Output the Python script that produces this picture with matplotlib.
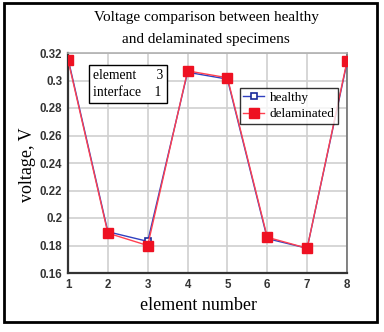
import matplotlib.pyplot as plt
from matplotlib.patches import Rectangle

elements = [1, 2, 3, 4, 5, 6, 7, 8]
healthy = [0.316, 0.190, 0.183, 0.306, 0.301, 0.185, 0.178, 0.313]
delaminated = [0.315, 0.189, 0.180, 0.307, 0.302, 0.186, 0.178, 0.314]
yticks = [0.16, 0.18, 0.2, 0.22, 0.24, 0.26, 0.28, 0.3, 0.32]
ytick_labels = ['0.16', '0.18', '0.2', '0.22', '0.24', '0.26', '0.28', '0.3', '0.32']

serif = 'Liberation Serif'
sans = 'Liberation Sans'

fig = plt.figure(figsize=(3.84, 3.32), dpi=100)
W, H = 384, 332
ax = fig.add_axes([68 / W, 1 - 273 / H, (347 - 68) / W, (273 - 53) / H])

ax.plot(elements, healthy, color='#3040c0', lw=1.0, marker='s', ms=5,
        mfc='white', mec='#1a2a9a', mew=1.2, label='healthy', zorder=3)
ax.plot(elements, delaminated, color='#ff4050', lw=1.0, marker='s', ms=6.5,
        mfc='#ee1122', mec='#ee1122', label='delaminated', zorder=4)

ax.set_xlim(1, 8)
ax.set_ylim(0.16, 0.32)
ax.set_xticks(elements)
ax.set_yticks(yticks)
ax.set_yticklabels(ytick_labels)
ax.grid(True, color='#d0d0d0', lw=1.2)
ax.set_axisbelow(True)
ax.tick_params(length=0, pad=4, labelsize=8.3)
for lab in ax.get_xticklabels() + ax.get_yticklabels():
    lab.set_fontfamily(sans)
    lab.set_fontweight('bold')
    lab.set_color('#333333')

for s in ['left', 'bottom']:
    ax.spines[s].set_color('#333333')
    ax.spines[s].set_linewidth(1.6)
for s in ['top', 'right']:
    ax.spines[s].set_color('#b0b0b0')
    ax.spines[s].set_linewidth(1.2)
ax.spines['right'].set_color('#707070')

ax.set_xlabel('element number', family=serif, fontsize=13)
ax.xaxis.set_label_coords((199 - 68) / (347 - 68), -(297 - 273) / 220)
ax.set_ylabel('voltage, V', family=serif, fontsize=13)
ax.yaxis.set_label_coords(-(68 - 36) / (347 - 68), 1 - (165 - 53) / 220)

fig.text(206 / W, 1 - 18 / H, 'Voltage comparison between healthy',
         family=serif, fontsize=11, ha='center', va='center')
fig.text(206 / W, 1 - 40 / H, 'and delaminated specimens',
         family=serif, fontsize=11, ha='center', va='center')

leg = ax.legend(loc='upper left', bbox_to_anchor=((240 - 68) / (347 - 68), 1 - (88 - 53) / 220),
                prop={'family': serif, 'size': 9.5}, frameon=True, fancybox=False,
                edgecolor='black', borderpad=0.25, handlelength=1.6, handletextpad=0.4,
                labelspacing=0.35, borderaxespad=0)
leg.get_frame().set_linewidth(1.0)

ax.text((93 - 68) / (347 - 68), 1 - (69 - 53) / 220, 'element      3\ninterface    1',
        transform=ax.transAxes, family=serif, fontsize=9.8, va='top', ha='left',
        linespacing=1.35,
        bbox=dict(boxstyle='square,pad=0.3', fc='white', ec='black', lw=1.0))

fig.patches.append(Rectangle((4 / W, 1 - 322 / H), (377 - 4) / W, (322 - 3) / H,
                             transform=fig.transFigure, fill=False, ec='black', lw=2))

fig.savefig('out.png', dpi=100)
